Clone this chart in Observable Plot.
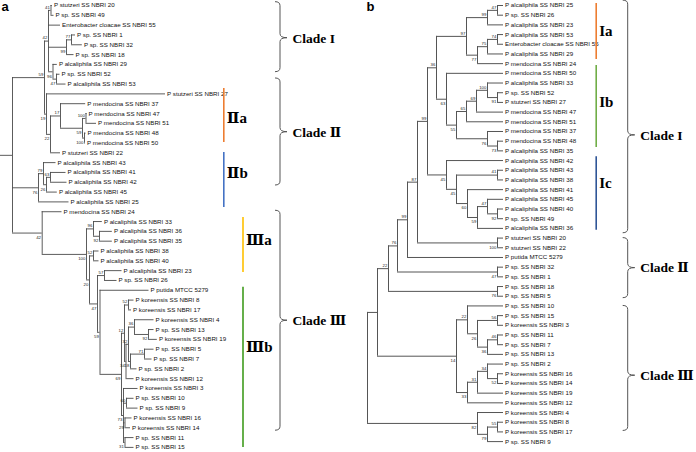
<!DOCTYPE html>
<html><head><meta charset="utf-8">
<script src="https://cdn.jsdelivr.net/npm/d3@7"></script>
<script src="https://cdn.jsdelivr.net/npm/@observablehq/plot@0.6"></script>
<style>
body{margin:0;background:#fff;}
#wrap{position:relative;width:696px;height:452px;overflow:hidden;}
#wrap svg{position:absolute;top:0;display:block;overflow:visible;background:transparent !important;}
</style></head><body><div id="wrap"></div>
<script>
// ---------- Tree a (leaves in display order) ----------
const leavesA = ["P stutzeri SS NBRI 20","P sp. SS NBRI 49","Enterobacter cloacae SS NBRI 55","P sp. SS NBRI 1","P sp. SS NBRI 32","P sp. SS NBRI 18","P alcaliphila SS NBRI 29","P sp. SS NBRI 52","P alcaliphila SS NBRI 53","P stutzeri SS NBRI 27","P mendocina SS NBRI 37","P mendocina SS NBRI 47","P mendocina SS NBRI 51","P mendocina SS NBRI 48","P mendocina SS NBRI 50","P stutzeri SS NBRI 22","P alcaliphila SS NBRI 43","P alcaliphila SS NBRI 41","P alcaliphila SS NBRI 42","P alcaliphila SS NBRI 45","P alcaliphila SS NBRI 25","P mendocina SS NBRI 24","P alcaliphila SS NBRI 33","P alcaliphila SS NBRI 36","P alcaliphila SS NBRI 35","P alcaliphila SS NBRI 38","P alcaliphila SS NBRI 40","P alcaliphila SS NBRI 23","P sp. SS NBRI 26","P putida MTCC 5279","P koreensis SS NBRI 8","P koreensis SS NBRI 17","P koreensis SS NBRI 4","P sp. SS NBRI 13","P koreensis SS NBRI 19","P sp. SS NBRI 5","P sp. SS NBRI 7","P sp. SS NBRI 2","P koreensis SS NBRI 12","P koreensis SS NBRI 3","P sp. SS NBRI 10","P sp. SS NBRI 9","P koreensis SS NBRI 16","P koreensis SS NBRI 14","P sp. SS NBRI 11","P sp. SS NBRI 15"];
const leafParentA = ["n41","n41","N42","n77","n77","n99","n96","n47a","n47a","N19","n17","n100a","n100a","n100b","n100b","n22","n79","n63","n63","n26","n76","nC","n96b","n92b","n92b","n52","n52","n57","n57","n59c","n52k","n52k","n36","n92","n92","n71","n71","n18","n34","nLow","n16","n16","n29","n29","n31","n31"];
const leafDepthA = [51.8,53.5,60,75,81.8,73.5,56.8,59.5,65.5,165,85.2,86.5,96,85.5,85,60,55.5,65.5,66.5,56.8,68.5,61.5,101.8,111.8,111.8,98.5,98.5,121.5,116.5,148.5,133.5,131,153.5,153.5,156.8,153.5,151.5,136.5,133.5,137.5,133.5,137.5,131.5,130,133.5,133.5];
const nodeIdA      = ["R","N59","N42","n41","n99","n77","n96","n47a","N19","n22","n17","n59b","n100a","n100b","n76","n79","n26","n63","nC","n100c","n96b","n92b","n20","n52","n47b","n57","n59c","nK","n12","n52k","n34","n32","n36","n92","n18","n71","nLow","n16","n29","n31"];
const nodeParentA  = ["","R","N59","N42","N42","n99","N42","n96","N59","N19","n22","n17","n59b","n59b","R","n76","n79","n26","R","nC","n100c","n96b","n100c","n20","n20","n47b","n47b","n59c","nK","n12","n12","n34","n32","n36","n32","n18","nK","nLow","nLow","nLow"];
const nodeDepthA   = [12,44,48,50.5,66,71,52.5,56,46,50,60,82,85.5,84,38,43,46,50,41.7,86,93,99,89,93,97,104,99.5,121,124,128,125.5,128,134,148,130,144,123,126,124.5,124.5];
const nodeSupportA = ["","59","42","41","99","77","96","47","19","22","17","59","100","100","76","79","26","63","42","100","96","92","20","52","47","57","59","69","12","52","34","32","36","92","18","71","73","60","29","31"];
const rootStemA = 0;

// ---------- Tree b ----------
const leavesB = ["P alcaliphila SS NBRI 25","P sp. SS NBRI 26","P alcaliphila SS NBRI 23","P alcaliphila SS NBRI 53","Enterobacter cloacae SS NBRI 55","P alcaliphila SS NBRI 29","P mendocina SS NBRI 24","P mendocina SS NBRI 50","P alcaliphila SS NBRI 33","P sp. SS NBRI 52","P stutzeri SS NBRI 27","P mendocina SS NBRI 47","P mendocina SS NBRI 51","P mendocina SS NBRI 37","P mendocina SS NBRI 48","P alcaliphila SS NBRI 35","P alcaliphila SS NBRI 42","P alcaliphila SS NBRI 43","P alcaliphila SS NBRI 38","P alcaliphila SS NBRI 41","P alcaliphila SS NBRI 45","P alcaliphila SS NBRI 40","P sp. SS NBRI 49","P alcaliphila SS NBRI 36","P stutzeri SS NBRI 20","P stutzeri SS NBRI 22","P putida MTCC 5279","P sp. SS NBRI 32","P sp. SS NBRI 1","P sp. SS NBRI 18","P sp. SS NBRI 5","P sp. SS NBRI 10","P sp. SS NBRI 15","P koreensis SS NBRI 3","P sp. SS NBRI 11","P sp. SS NBRI 7","P sp. SS NBRI 13","P sp. SS NBRI 2","P koreensis SS NBRI 16","P koreensis SS NBRI 14","P koreensis SS NBRI 19","P koreensis SS NBRI 12","P koreensis SS NBRI 4","P koreensis SS NBRI 8","P koreensis SS NBRI 17","P sp. SS NBRI 9"];
const leafParentB = ["r47a","r47a","r99a","r74","r74","r75","r77","r63","r100","r91","r91","r69","r65","r76","r73","r73","r45a","r41","r41","r60","r47b","r92","r92","r59","r100b","r100b","r99c","r47c","r47c","r76c","r76c","r22b","r56","r56","r46","r46","r36b","r34","r52","r52","r31","r33","r82","r55b","r55b","r79"];
const leafDepthB = Array(46).fill(136);
const nodeIdB      = ["root","r22top","r22","r76b","r99c","r87","r99b","r36","r97","r99a","r47a","r77","r75","r74","r63","r55","r65","r69","r100","r91","r76","r73","r45a","r45b","r41","r60","r59","r47b","r92","r100b","r47c","r76c","r14","r22b","r56","r26","r36b","r46","r33","r31","r34","r52","r82","r79","r55b"];
const nodeParentB  = ["","root","r22top","r22","r76b","r99c","r87","r99b","r36","r97","r99a","r97","r77","r75","r36","r63","r55","r65","r69","r100","r55","r76","r99b","r45a","r45b","r45b","r60","r59","r47b","r87","r76b","r22","r22top","r14","r26","r22b","r26","r36b","r14","r33","r31","r34","root","r82","r79"];
const nodeDepthB   = [0,10,21,30,40,50,60,69,99,120,130,110,120,130,79,89,99,109,120,130,120,130,79,89,130,100,110,120,130,130,130,130,89,100,130,110,120,130,100,110,120,130,110,120,130];
const nodeSupportB = ["","","22","76","99","87","99","36","97","99","47","77","75","74","63","55","65","69","100","91","76","73","45","45","41","60","59","47","92","100","47","76","14","22","56","26","36","46","33","31","34","52","82","79","55"];

// ---------- annotations ----------
const cladeNamesA = ["Clade I","Clade Ⅱ","Clade Ⅲ"];
const cladeTopA = [-0.34, 7.43, 20.9];
const cladeTipA = [3.33, 12.9, 32.1];
const cladeBottomA = [6.79, 18.33, 43.3];
const subNamesA = ["Ⅱa","Ⅱb","Ⅲa","Ⅲb"];
const subFromA = [8.45, 14.97, 21.6, 28.7];
const subToA = [13.95, 20.57, 27.2, 45];
const subMidA = [11.5, 17.1, 23.9, 34.8];
const subColorA = ["#ed7d31","#4472c4","#ffc000","#3f9b1d"];
const subColA = [0,0,1,1];

const cladeNamesB = ["Clade I","Clade Ⅱ","Clade Ⅲ"];
const cladeTopB = [-0.5, 24, 31];
const cladeTipB = [13.4, 27.1, 38.2];
const cladeBottomB = [23.5, 30.2, 43.9];
const subNamesB = ["Ia","Ib","Ic"];
const subFromB = [-0.2, 6.2, 15.6];
const subToB = [5.57, 14.65, 23.2];
const subMidB = [2.6, 10, 18.3];
const subColorB = ["#ed7d31","#70ad47","#2f5597"];

// ---------- layout helper ----------
function buildTree(leafNames, leafParents, leafDepths, ids, parents, depths, supports, stemFrom) {
  const nodes = new Map();
  ids.forEach((id,i)=>nodes.set(id,{id,parent:parents[i],depth:depths[i],support:supports[i],children:[],leaf:false}));
  leafNames.forEach((name,i)=>nodes.set("leaf"+i,{id:"leaf"+i,name,parent:leafParents[i],depth:leafDepths[i],y:i,children:[],leaf:true}));
  for (const n of nodes.values()) if (n.parent) nodes.get(n.parent).children.push(n);
  const root = [...nodes.values()].find(n=>!n.parent);
  (function setY(n){ if(n.leaf) return n.y; const ys=n.children.map(setY); n.y0=Math.min(...ys); n.y1=Math.max(...ys); n.y=(n.y0+n.y1)/2; return n.y; })(root);
  const horiz=[], vert=[], sup=[], leaves=[];
  for (const n of nodes.values()) {
    if (n.parent) { const p=nodes.get(n.parent); horiz.push({x1:p.depth,x2:n.depth,y:n.y}); }
    if (!n.leaf) {
      vert.push({x:n.depth,y1:n.y0,y2:n.y1});
      if (n.support && n.parent) { const p=nodes.get(n.parent); sup.push({x:n.depth,y:n.y,text:n.support,below:n.y>p.y}); }
    } else leaves.push(n);
  }
  if (stemFrom!=null) horiz.push({x1:stemFrom,x2:root.depth,y:root.y});
  return {horiz,vert,sup,leaves};
}

function braceMark(items, xv, stroke) {
  return (index, scales) => {
    const g = d3.create("svg:g");
    for (const d of items) {
      const X = scales.x(xv), x0 = X-5, xt = X+7, r = 4;
      const yt = scales.y(d.top), yb = scales.y(d.bottom), ym = scales.y(d.tip);
      g.append("path")
        .attr("d",`M${x0},${yt} Q${X},${yt} ${X},${yt+r} L${X},${ym-r} Q${X},${ym} ${xt},${ym} Q${X},${ym} ${X},${ym+r} L${X},${yb-r} Q${X},${yb} ${x0},${yb}`)
        .attr("fill","none").attr("stroke",stroke).attr("stroke-width",1);
    }
    return g.node();
  };
}

function treeMarks(t, stroke, sw) {
  return [
    Plot.ruleY(t.horiz, {y:"y", x1:"x1", x2:"x2", stroke, strokeWidth:sw}),
    Plot.ruleX(t.vert, {x:"x", y1:"y1", y2:"y2", stroke, strokeWidth:sw}),
    Plot.text(t.sup.filter(d=>!d.below), {x:"x", y:"y", text:"text", textAnchor:"end", dx:-1.2, dy:-3, fontSize:4.3, fill:"#222", fontFamily:"Liberation Sans"}),
    Plot.text(t.sup.filter(d=>d.below), {x:"x", y:"y", text:"text", textAnchor:"end", dx:-1.2, dy:4.5, fontSize:4.3, fill:"#222", fontFamily:"Liberation Sans"}),
    Plot.text(t.leaves, {x:"depth", y:"y", text:"name", textAnchor:"start", dx:1.6, fontSize:6.2, fill:"#111", fontFamily:"Liberation Sans", ariaLabel:"leaf"})
  ];
}

const tA = buildTree(leavesA, leafParentA, leafDepthA, nodeIdA, nodeParentA, nodeDepthA, nodeSupportA, rootStemA);
const tB = buildTree(leavesB, leafParentB, leafDepthB, nodeIdB, nodeParentB, nodeDepthB, nodeSupportB, null);

const cladesA = cladeNamesA.map((label,i)=>({label,top:cladeTopA[i],tip:cladeTipA[i],bottom:cladeBottomA[i]}));
const subsA = subNamesA.map((label,i)=>({label,from:subFromA[i],to:subToA[i],mid:subMidA[i],color:subColorA[i],col:subColA[i]}));
const cladesB = cladeNamesB.map((label,i)=>({label,top:cladeTopB[i],tip:cladeTipB[i],bottom:cladeBottomB[i]}));
const subsB = subNamesB.map((label,i)=>({label,from:subFromB[i],to:subToB[i],mid:subMidB[i],color:subColorB[i]}));

const serif = "Liberation Serif, Times New Roman, DejaVu Serif, serif";
const subLineXA = [223.3, 242.5];
const braceXA = 280, braceXB = 260.7, subLineXB = 228.7;

const plotA = Plot.plot({
  width:340, height:452, margin:0,
  x:{domain:[0,340], range:[0,340], axis:null},
  y:{domain:[0,45], range:[5,446.9], axis:null},
  marks:[
    ...treeMarks(tA, "#4a4a4a", 0.9),
    Plot.ruleX(subsA, {x:d=>subLineXA[d.col], y1:"from", y2:"to", stroke:"color", strokeWidth:1.6}),
    Plot.text(subsA, {x:d=>subLineXA[d.col], y:"mid", text:"label", textAnchor:"start", dx:3, fontSize:15, fontWeight:"bold", fontFamily:serif, fill:"#000"}),
    braceMark(cladesA, braceXA, "#555"),
    Plot.text(cladesA, {x:braceXA, y:"tip", text:"label", textAnchor:"start", dx:12, fontSize:13.5, fontWeight:"bold", fontFamily:serif, fill:"#000"}),
    Plot.text(["a"], {frameAnchor:"top-left", dx:1, dy:1, fontSize:13, fontWeight:"bold", fontFamily:"Liberation Sans", fill:"#000"})
  ]
});

const plotB = Plot.plot({
  width:356, height:452, margin:0,
  x:{domain:[-27,329], range:[0,356], axis:null},
  y:{domain:[0,45], range:[5,441.1], axis:null},
  marks:[
    ...treeMarks(tB, "#555", 1),
    Plot.ruleX(subsB, {x:subLineXB, y1:"from", y2:"to", stroke:"color", strokeWidth:1.6}),
    Plot.text(subsB, {x:subLineXB, y:"mid", text:"label", textAnchor:"start", dx:3, fontSize:15, fontWeight:"bold", fontFamily:serif, fill:"#000"}),
    braceMark(cladesB, braceXB, "#555"),
    Plot.text(cladesB, {x:braceXB, y:"tip", text:"label", textAnchor:"start", dx:12, fontSize:13.5, fontWeight:"bold", fontFamily:serif, fill:"#000"}),
    Plot.text(["b"], {frameAnchor:"top-left", dx:26, dy:1, fontSize:13, fontWeight:"bold", fontFamily:"Liberation Sans", fill:"#000"})
  ]
});

const wrap = document.getElementById("wrap");
plotA.style.left = "0px";
plotB.style.left = "340px";
wrap.append(plotB, plotA);
// condensed (narrow) look of the leaf names
document.querySelectorAll('g[aria-label="leaf"] text').forEach(t => {
  const w = t.getComputedTextLength();
  t.setAttribute("textLength", (w*0.84).toFixed(2));
  t.setAttribute("lengthAdjust", "spacingAndGlyphs");
});
</script></body></html>
